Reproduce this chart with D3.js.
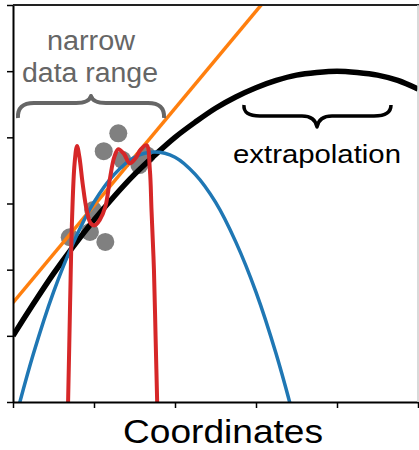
<!DOCTYPE html>
<html><head><meta charset="utf-8">
<script src="https://cdn.jsdelivr.net/npm/d3@7"></script>
<style>html,body{margin:0;padding:0;background:#fff;}svg{display:block;}</style>
</head><body>
<script>
// ---- data ----
const xTicks = [0, 1, 2, 3, 4, 5];
const yTicks = [0, 1, 2, 3, 4, 5, 6];
const pointsX = [0.70, 0.95, 0.99, 1.14, 1.12, 1.30, 1.35, 1.56, 1.65];
const pointsY = [2.49, 2.57, 2.90, 2.42, 3.79, 4.06, 3.66, 3.58, 3.73];
const blackX = [0,0.25,0.5,0.75,1,1.25,1.5,1.75,2,2.25,2.5,2.75,3,3.25,3.5,3.75,4,4.25,4.5,4.75,5];
const blackY = [1.0,1.48,1.94,2.36,2.75,3.11,3.44,3.73,4.0,4.23,4.44,4.61,4.75,4.86,4.94,4.98,5.0,4.98,4.94,4.86,4.73];
const orangeX = [0, 3.2];
const orangeY = [1.5, 6.2];
const blueX = [0,0.25,0.5,0.75,1,1.25,1.5,1.75,2,2.25,2.5,2.75,3,3.25,3.5];
const blueY = [-0.39,0.72,1.66,2.42,3.02,3.44,3.70,3.78,3.70,3.44,3.02,2.42,1.66,0.72,-0.39];
const redX = [0.655,0.68,0.705,0.73,0.76,0.79,0.82,0.86,0.91,0.96,1.01,1.07,1.14,1.2,1.25,1.30,1.37,1.44,1.51,1.58,1.65,1.69,1.71,1.74,1.76,1.78,1.80];
const redY = [-1,0,1.5,2.8,3.6,3.87,3.7,3.3,2.9,2.7,2.67,2.75,2.95,3.4,3.7,3.82,3.75,3.61,3.68,3.82,3.88,3.5,2.9,2.0,1.0,0,-1];
const xTitle = "Coordinates";
const noteLeft = ["narrow", "data range"];
const noteRight = "extrapolation";

// ---- layout ----
const W = 419, H = 450;
const m = {left: 13, right: 1, top: 5, bottom: 48};
const svg = d3.select("body").append("svg").attr("width", W).attr("height", H);
const x = d3.scaleLinear().domain([0, 5]).range([m.left, W - m.right]);
const y = d3.scaleLinear().domain([0, 6]).range([H - m.bottom, m.top]);

svg.append("defs").append("clipPath").attr("id", "clip")
  .append("rect").attr("x", m.left).attr("y", m.top)
  .attr("width", W - m.right - m.left).attr("height", H - m.bottom - m.top);

const plot = svg.append("g").attr("clip-path", "url(#clip)");

// scatter
plot.selectAll("circle.pt").data(pointsX.map((v, i) => [v, pointsY[i]])).join("circle")
  .attr("cx", d => x(d[0])).attr("cy", d => y(d[1])).attr("r", 9).attr("fill", "#808080");

const line = d3.line().x(d => x(d[0])).y(d => y(d[1])).curve(d3.curveCatmullRom.alpha(0.5));
const zip = (a, b) => a.map((v, i) => [v, b[i]]);

plot.append("path").datum(zip(blackX, blackY)).attr("d", line)
  .attr("fill", "none").attr("stroke", "#000").attr("stroke-width", 5.5);
plot.append("path").datum(zip(orangeX, orangeY)).attr("d", d3.line().x(d => x(d[0])).y(d => y(d[1])))
  .attr("fill", "none").attr("stroke", "#ff7f0e").attr("stroke-width", 3.5);
plot.append("path").datum(zip(blueX, blueY)).attr("d", line)
  .attr("fill", "none").attr("stroke", "#1f77b4").attr("stroke-width", 3.5);
plot.append("path").datum(zip(redX, redY)).attr("d", line)
  .attr("fill", "none").attr("stroke", "#d62728").attr("stroke-width", 4);

// axes
const gx = svg.append("g").attr("transform", `translate(0,${y(0)})`)
  .call(d3.axisBottom(x).tickValues(xTicks).tickFormat("").tickSize(6).tickSizeOuter(0));
const gy = svg.append("g").attr("transform", `translate(${x(0)},0)`)
  .call(d3.axisLeft(y).tickValues(yTicks).tickFormat("").tickSize(6).tickSizeOuter(0));
[gx, gy].forEach(g => {
  g.select(".domain").attr("stroke", "#000").attr("stroke-width", 2);
  g.selectAll(".tick line").attr("stroke", "#000").attr("stroke-width", 1.5);
});
// top border and right edge
svg.append("line").attr("x1", m.left).attr("x2", W).attr("y1", m.top).attr("y2", m.top)
  .attr("stroke", "#222").attr("stroke-width", 2);
svg.append("line").attr("x1", W - 1).attr("x2", W - 1).attr("y1", m.top).attr("y2", y(0))
  .attr("stroke", "#ccc").attr("stroke-width", 1.5);

// x title
svg.append("text").attr("x", 223).attr("y", 443).attr("text-anchor", "middle")
  .attr("font-family", "Liberation Sans, Arial, sans-serif").attr("font-size", 33)
  .attr("textLength", 200).attr("lengthAdjust", "spacingAndGlyphs")
  .attr("fill", "#000").text(xTitle);

// annotations
const ann = svg.append("g").attr("font-family", "Liberation Sans, Arial, sans-serif");
ann.append("text").attr("x", 91).attr("y", 50).attr("text-anchor", "middle")
  .attr("font-size", 27).attr("fill", "#666")
  .attr("textLength", 88).attr("lengthAdjust", "spacingAndGlyphs").text(noteLeft[0]);
ann.append("text").attr("x", 90).attr("y", 82).attr("text-anchor", "middle")
  .attr("font-size", 27).attr("fill", "#666")
  .attr("textLength", 136).attr("lengthAdjust", "spacingAndGlyphs").text(noteLeft[1]);
ann.append("text").attr("x", 317).attr("y", 163).attr("text-anchor", "middle")
  .attr("font-size", 26).attr("fill", "#000")
  .attr("textLength", 168).attr("lengthAdjust", "spacingAndGlyphs").text(noteRight);

// braces
ann.append("path")
  .attr("d", "M18,118 Q17,103 34,103 L76,103 Q89,103 91,96 Q93,103 106,103 L148,103 Q165,103 164,118")
  .attr("fill", "none").attr("stroke", "#666").attr("stroke-width", 4).attr("stroke-linejoin", "round");
ann.append("path")
  .attr("d", "M244,105 Q243,116 260,116 L302,116 Q315,116 317,127 Q319,116 332,116 L374,116 Q391,116 391,105")
  .attr("fill", "none").attr("stroke", "#000").attr("stroke-width", 3.5).attr("stroke-linejoin", "round");
</script>
</body></html>
